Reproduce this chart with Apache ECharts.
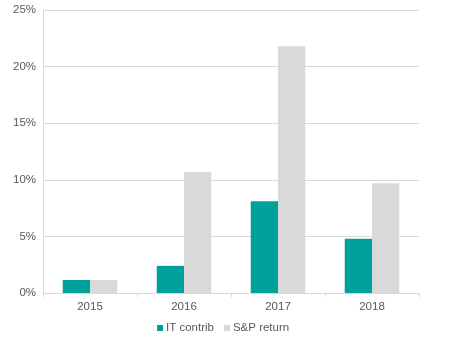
<!DOCTYPE html>
<html>
<head>
<meta charset="utf-8">
<script src="https://cdn.jsdelivr.net/npm/echarts@6/dist/echarts.min.js"></script>
<style>html,body{margin:0;padding:0;background:#fff}#c{width:449px;height:349px}</style>
</head>
<body>
<div id="c"></div>
<script>
// Yearly IT-sector contribution vs. total S&P 500 return (%)
var years = ['2015', '2016', '2017', '2018'];
var itContrib = [1.15, 2.4, 8.1, 4.8];
var spReturn = [1.15, 10.7, 21.8, 9.7];

var chart = echarts.init(document.getElementById('c'));
var txt = '#595959';
chart.setOption({
  animation: false,
  grid: { left: 43, right: 30, top: 10, bottom: 56 },
  legend: {
    bottom: 10,
    left: 152,
    itemWidth: 6,
    itemHeight: 6,
    itemGap: 10,
    icon: 'rect',
    textStyle: { color: txt, fontSize: 11.5, fontFamily: 'Liberation Sans, Arial', padding: [0, 0, 0, -2] },
    data: ['IT contrib', 'S&P return']
  },
  xAxis: {
    type: 'category',
    data: years,
    axisLine: { lineStyle: { color: '#d9d9d9' } },
    axisTick: { show: true, lineStyle: { color: '#d9d9d9' }, length: 4 },
    axisLabel: { color: txt, fontSize: 11.5, fontFamily: 'Liberation Sans, Arial', margin: 8 }
  },
  yAxis: {
    type: 'value',
    min: 0,
    max: 25,
    interval: 5,
    axisLine: { show: true, lineStyle: { color: '#d9d9d9' } },
    axisTick: { show: false },
    splitLine: { lineStyle: { color: '#d9d9d9' } },
    axisLabel: { color: txt, fontSize: 11.5, fontFamily: 'Liberation Sans, Arial', margin: 7, formatter: '{value}%' }
  },
  series: [
    {
      name: 'IT contrib',
      type: 'bar',
      data: itContrib,
      barGap: '0%',
      barCategoryGap: '42%',
      itemStyle: { color: '#00a19c' }
    },
    {
      name: 'S&P return',
      type: 'bar',
      data: spReturn,
      itemStyle: { color: '#d9d9d9' }
    }
  ]
});
</script>
</body>
</html>
